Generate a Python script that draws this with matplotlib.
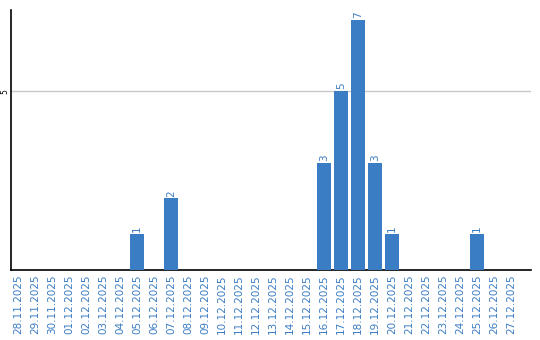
import matplotlib
matplotlib.use('Agg')
import matplotlib.pyplot as plt

# Data
dates = ['28.11.2025', '29.11.2025', '30.11.2025', '01.12.2025', '02.12.2025',
         '03.12.2025', '04.12.2025', '05.12.2025', '06.12.2025', '07.12.2025',
         '08.12.2025', '09.12.2025', '10.12.2025', '11.12.2025', '12.12.2025',
         '13.12.2025', '14.12.2025', '15.12.2025', '16.12.2025', '17.12.2025',
         '18.12.2025', '19.12.2025', '20.12.2025', '21.12.2025', '22.12.2025',
         '23.12.2025', '24.12.2025', '25.12.2025', '26.12.2025', '27.12.2025']
counts = [0, 0, 0, 0, 0, 0, 0, 1, 0, 2,
          0, 0, 0, 0, 0, 0, 0, 0, 3, 5,
          7, 3, 1, 0, 0, 0, 0, 1, 0, 0]
y_ticks = [5]

blue = '#3b7dc4'

fig = plt.figure(figsize=(5.4, 3.4), dpi=100)
ax = fig.add_axes([0.0204, 0.2059, 0.9630, 0.7647])

x = list(range(len(dates)))
ax.bar(x, counts, width=0.82, color=blue, zorder=3)

# value labels above non-zero bars
for xi, v in zip(x, counts):
    if v > 0:
        ax.text(xi, v + 0.05, str(v), rotation=90, ha='center', va='bottom',
                color=blue, fontsize=7.5)

ax.set_xlim(-0.41, 30.18)
ax.set_ylim(0, 7.27)

ax.set_xticks(x)
ax.set_xticklabels(dates, rotation=90, color=blue, fontsize=7.5)
ax.set_yticks(y_ticks)
ax.set_yticklabels([str(t) for t in y_ticks], rotation=90, fontsize=5.5,
                   va='center')
ax.tick_params(axis='x', length=0, pad=3)
ax.tick_params(axis='y', length=0, pad=1)

ax.grid(axis='y', color='#c8c8c8', linewidth=1, zorder=0)
ax.spines['top'].set_visible(False)
ax.spines['right'].set_visible(False)
ax.spines['left'].set_linewidth(1.2)
ax.spines['bottom'].set_linewidth(1.2)

fig.savefig('out.png', dpi=100)
